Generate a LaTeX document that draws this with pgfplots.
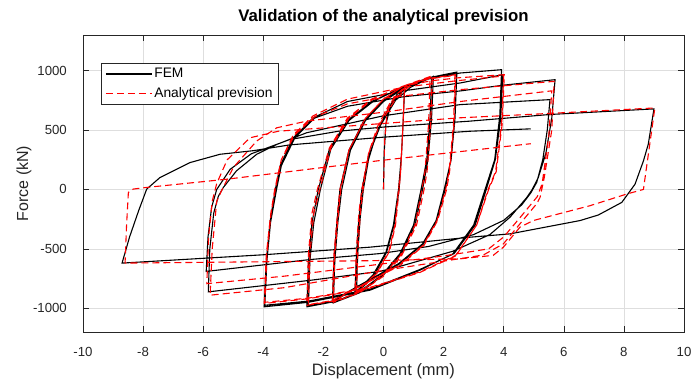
\documentclass[border=0pt]{standalone}
\usepackage{fontspec}
\setmainfont{Liberation Sans}
\usepackage{pgfplots}
\pgfplotsset{compat=1.18}
\definecolor{axgray}{rgb}{0.15,0.15,0.15}
\definecolor{gridgray}{rgb}{0.87,0.87,0.87}
\begin{document}
\fontsize{13}{15.6}\selectfont
\begin{tikzpicture}
\useasboundingbox (-83pt,-48pt) rectangle (608pt,332pt);
\begin{axis}[
  at={(0pt,0pt)}, anchor=south west,
  scale only axis, width=601pt, height=297pt,
  xmin=-10, xmax=10, ymin=-1200, ymax=1300,
  xtick={-10,-8,-6,-4,-2,0,2,4,6,8,10},
  ytick={-1000,-500,0,500,1000},
  xtick pos=both, ytick pos=both,
  grid=major, major grid style={gridgray, line width=0.5pt},
  tick align=inside, major tick length=6pt,
  axis line style={axgray, line width=0.6pt},
  every tick/.style={axgray, line width=0.6pt},
  /pgf/number format/assume math mode=true,
  /pgf/number format/1000 sep={},
  ticklabel style={font=\fontsize{13.2}{15.6}\selectfont, text=axgray},
  xticklabel style={anchor=center, inner sep=0pt, yshift=-19.7pt},
  yticklabel style={anchor=east, inner sep=0pt, xshift=-16pt},
  title={Validation of the analytical prevision},
  title style={font=\fontsize{16.8}{19}\selectfont\bfseries, at={(axis description cs:0.5,1.024)}, anchor=base, inner sep=0pt},
  xlabel={Displacement (mm)},
  xlabel style={font=\fontsize{16.5}{19}\selectfont, text=axgray, at={(axis description cs:0.5,-0.1465)}, anchor=base, inner sep=0pt},
  ylabel={Force (kN)},
  ylabel style={font=\fontsize{16}{19}\selectfont, text=axgray, at={(axis description cs:-0.0915,0.5)}, anchor=base, inner sep=0pt},
  legend style={at={(axis description cs:0.02995,0.9057)}, anchor=north west,
    draw=axgray, line width=0.5pt, fill=white, inner xsep=4pt, inner ysep=3pt,
    row sep=3.5pt, font=\fontsize{13.8}{16}\selectfont, text=black},
  legend cell align=left,
  legend image code/.code={\draw[#1] (0pt,0pt) -- (46pt,0pt);},
]
\addplot[black, line width=1.1pt] coordinates {
(0,0) (0.02,300) (0.08,550) (0.25,720) (0.45,800) (0.7,840)
(0.66,600) (0.6,300) (0.52,0) (0.35,-300) (0.1,-530) (-0.3,-720) (-0.9,-877)
(-0.86,-550) (-0.78,-250) (-0.67,0) (-0.5,250) (-0.2,500) (0.2,700) (0.7,845)
(0.66,600) (0.6,300) (0.5,0) (0.33,-300) (0.08,-530) (-0.35,-720) (-0.95,-870)
(-0.9,-550) (-0.82,-250) (-0.72,0) (-0.5,280) (-0.1,540) (0.4,750) (0.9,860) (1.66,952)
(1.6,600) (1.48,250) (1.3,0) (1.05,-300) (0.6,-540) (0,-720) (-0.8,-870) (-1.67,-955)
(-1.62,-600) (-1.52,-280) (-1.39,0) (-1.1,330) (-0.6,580) (0,740) (0.66,850) (1.6,940)
(1.55,600) (1.44,250) (1.25,0) (1.0,-300) (0.55,-540) (-0.05,-720) (-0.85,-870) (-1.7,-950)
(-1.65,-600) (-1.55,-280) (-1.45,0) (-1.15,330) (-0.65,580) (0,750) (0.66,860) (1.5,940) (2.44,988)
(2.38,620) (2.25,260) (2.05,0) (1.77,-262) (1.33,-458) (0.55,-625) (-0.89,-821) (-1.67,-946) (-2.55,-988)
(-2.5,-620) (-2.38,-280) (-2.17,0) (-1.8,340) (-1.2,580) (-0.4,740) (0.66,860) (1.5,930) (2.44,975)
(2.38,600) (2.25,250) (2.02,0) (1.75,-262) (1.3,-458) (0.5,-625) (-0.9,-821) (-1.7,-940) (-2.5,-980)
(-2.45,-600) (-2.32,-280) (-2.1,0) (-1.75,340) (-1.15,580) (-0.35,740) (0.66,865) (1.6,940) (2.55,980) (3.93,1008)
(3.87,620) (3.7,250) (3.38,0) (3.0,-300) (2.31,-542) (1.21,-680) (-0.45,-848) (-2.5,-950) (-3.97,-988)
(-3.9,-600) (-3.78,-280) (-3.6,0) (-3.44,200) (-3.0,435) (-2.34,603) (-1.2,740) (0.66,830) (2.55,896) (3.97,966)
(3.9,600) (3.72,250) (3.42,0) (3.05,-300) (2.35,-540) (1.2,-675) (-0.45,-840) (-2.5,-940) (-3.95,-975)
(-3.88,-600) (-3.76,-280) (-3.56,0) (-3.4,200) (-2.95,435) (-2.3,600) (-1.2,700) (0.66,780) (2.55,829) (4,878) (5.71,924)
(5.6,600) (5.4,300) (5.15,100) (4.95,0) (4.77,-67) (4.21,-234) (3.54,-380) (2.31,-520) (0.65,-640) (-0.12,-690) (-2.44,-765) (-5.83,-862)
(-5.78,-500) (-5.65,-200) (-5.5,-60) (-5.33,17) (-4.89,157) (-4.22,296) (-3.55,379) (-2.56,477) (0,620) (2.55,714) (5.54,756)
(5.45,500) (5.3,250) (5.1,60) (4.9,-30) (4.6,-130) (4.0,-260) (3.0,-380) (1.5,-480) (-0.12,-540) (-2.44,-590) (-5.9,-690)
(-5.84,-400) (-5.72,-150) (-5.55,0) (-5.1,170) (-4.4,300) (-3.12,420) (-1.5,490) (0,525) (2.88,575) (5.54,631) (9,678)
(8.81,380) (8.65,240) (8.37,44) (7.93,-109) (7.15,-215) (6.54,-262) (4.21,-374) (2.88,-402) (-0.45,-486) (-4,-550) (-8.7,-620)
(-8.45,-400) (-8.15,-180) (-7.88,3) (-7.44,100) (-6.44,226) (-5.44,296) (-4.34,326) (-3.12,375) (0,440) (2.88,490) (4.9,510)
};
\addlegendentry{FEM}
\addplot[red, line width=1.1pt, dash pattern=on 7pt off 4pt] coordinates {
(0,0) (0.04,420) (0.12,650) (0.35,780) (0.7,860)
(0.64,500) (0.57,150) (0.52,0) (0.4,-300) (0.2,-520) (-0.2,-700) (-0.9,-880)
(-0.85,-500) (-0.77,-200) (-0.68,0) (-0.5,300) (-0.2,530) (0.2,720) (0.7,855)
(0.64,500) (0.57,150) (0.5,0) (0.38,-300) (0.18,-520) (-0.22,-700) (-0.95,-875)
(-0.9,-500) (-0.82,-200) (-0.72,0) (-0.5,300) (-0.1,560) (0.4,760) (0.9,880) (1.62,955)
(1.57,550) (1.45,150) (1.35,0) (1.1,-300) (0.6,-560) (0,-730) (-0.8,-870) (-1.67,-950)
(-1.62,-550) (-1.5,-200) (-1.42,0) (-1.15,330) (-0.6,600) (0,760) (0.66,870) (1.55,950)
(1.5,550) (1.38,150) (1.28,0) (1.05,-300) (0.55,-560) (-0.05,-730) (-0.85,-870) (-1.7,-945)
(-1.65,-550) (-1.53,-200) (-1.45,0) (-1.15,330) (-0.6,600) (0,760) (0.66,870) (1.5,935) (2.4,966)
(2.35,550) (2.2,150) (2.1,0) (1.8,-262) (1.35,-470) (0.55,-640) (-0.89,-830) (-1.67,-940) (-2.55,-975)
(-2.5,-550) (-2.38,-200) (-2.2,0) (-1.8,350) (-1.2,600) (-0.4,760) (0.66,870) (1.5,930) (2.38,960)
(2.33,550) (2.18,150) (2.07,0) (1.78,-262) (1.32,-470) (0.5,-640) (-0.9,-830) (-1.7,-935) (-2.5,-970)
(-2.45,-550) (-2.32,-200) (-2.12,0) (-1.75,350) (-1.15,600) (-0.35,760) (0.66,870) (1.6,915) (2.5,940) (4.02,966)
(3.95,550) (3.75,150) (3.5,0) (3.1,-300) (2.4,-560) (1.2,-700) (-0.45,-830) (-2.5,-920) (-3.97,-960)
(-3.9,-550) (-3.75,-200) (-3.62,0) (-3.4,250) (-3.0,460) (-2.34,620) (-1.2,760) (0.66,860) (2.44,915) (4.0,955)
(3.93,550) (3.73,150) (3.48,0) (3.1,-300) (2.4,-555) (1.2,-695) (-0.45,-825) (-2.5,-915) (-3.95,-950)
(-3.88,-550) (-3.74,-200) (-3.6,0) (-3.4,250) (-2.95,460) (-2.3,610) (-1.2,720) (-0.45,756) (2.55,840) (5.68,910)
(5.6,500) (5.35,100) (5.21,-67) (5.1,-120) (4.54,-290) (3.99,-458) (3.32,-552) (-0.45,-700) (-3.3,-827) (-5.77,-890)
(-5.7,-500) (-5.55,-100) (-5.39,-11) (-5.0,184) (-4.22,408) (-3.55,519) (-2.56,575) (0,650) (2.55,740) (5.6,830)
(5.5,450) (5.28,50) (5.12,-60) (4.6,-220) (4.0,-400) (3.5,-500) (2.0,-560) (-0.45,-640) (-3.3,-730) (-5.88,-793)
(-5.82,-400) (-5.7,-100) (-5.55,50) (-5.2,250) (-4.44,435) (-3.5,490) (-0.45,547) (2.55,603) (5.54,640) (9.03,686)
(8.65,0) (8.09,-39) (6.87,-137) (4.98,-262) (4.54,-318) (3.99,-486) (3.65,-555) (2.55,-584) (-0.45,-600) (-8.6,-620)
(-8.55,-300) (-8.49,-25) (-8.33,3) (-7.88,17) (-5.22,86) (-0.12,243) (4.9,385)
};
\addlegendentry{Analytical prevision}
\end{axis}
\end{tikzpicture}
\end{document}
